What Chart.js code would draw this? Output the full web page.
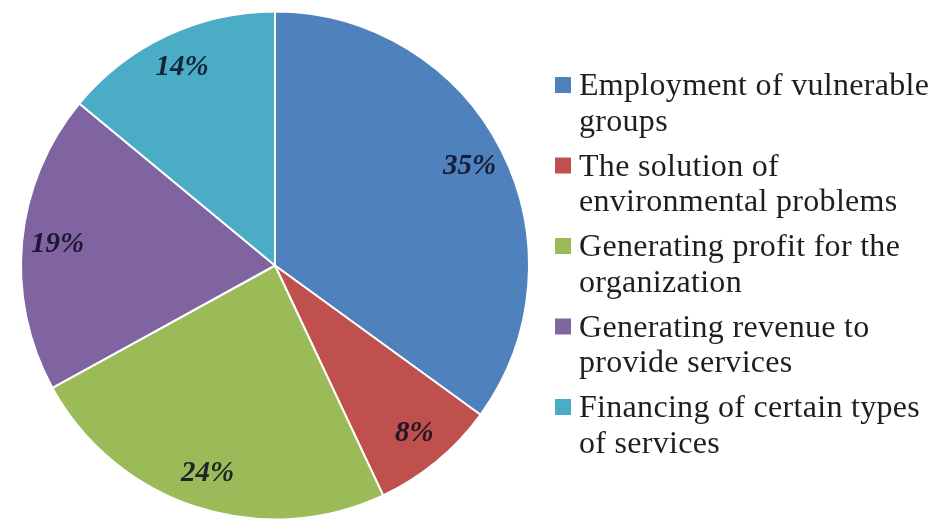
<!DOCTYPE html>
<html>
<head>
<meta charset="utf-8">
<script src="https://cdn.jsdelivr.net/npm/chart.js"></script>
<style>
  html, body { margin: 0; padding: 0; background: #fff; }
  #wrap { width: 940px; height: 527px; position: relative; }
</style>
</head>
<body>
<div id="wrap"><canvas id="chart" width="940" height="527"></canvas></div>
<script>
// goal categories, each split into the lines shown in the legend
const categories = [
  ['Employment of vulnerable', 'groups'],
  ['The solution of', 'environmental problems'],
  ['Generating profit for the', 'organization'],
  ['Generating revenue to', 'provide services'],
  ['Financing of certain types', 'of services']
];
const shares = [35, 8, 24, 19, 14];
const colors = ['#4f81bd', '#c0504d', '#9bbb59', '#8064a2', '#4bacc6'];

// percentage labels placed inside each slice
const sliceLabels = {
  id: 'sliceLabels',
  afterDatasetsDraw(chart) {
    const ctx = chart.ctx;
    const meta = chart.getDatasetMeta(0);
    ctx.save();
    ctx.font = 'italic bold 29px "Liberation Serif", "Times New Roman", serif';
    ctx.fillStyle = 'rgba(10, 10, 30, 0.85)';
    ctx.textAlign = 'center';
    ctx.textBaseline = 'middle';
    meta.data.forEach((arc, i) => {
      const mid = (arc.startAngle + arc.endAngle) / 2;
      const r = arc.outerRadius * 0.86;
      ctx.fillText(shares[i] + '%', arc.x + Math.cos(mid) * r, arc.y + Math.sin(mid) * r);
    });
    ctx.restore();
  }
};

// legend on the right with two-line entries
const sideLegend = {
  id: 'sideLegend',
  afterDraw(chart) {
    const ctx = chart.ctx;
    const x0 = 555, tx = 579;
    const firstBase = 95, itemStep = 80.5, lineStep = 35.5;
    ctx.save();
    ctx.font = '32px "Liberation Serif", "Times New Roman", serif';
    ctx.letterSpacing = '0.3px';
    ctx.textBaseline = 'alphabetic';
    categories.forEach((lines, i) => {
      const base = firstBase + i * itemStep;
      ctx.fillStyle = colors[i];
      ctx.fillRect(x0, base - 18, 16, 16);
      ctx.fillStyle = '#1e1e1e';
      lines.forEach((t, j) => ctx.fillText(t, tx, base + j * lineStep));
    });
    ctx.restore();
  }
};

new Chart(document.getElementById('chart'), {
  type: 'pie',
  data: {
    labels: categories.map(c => c.join(' ')),
    datasets: [{
      data: shares,
      backgroundColor: colors,
      borderColor: '#ffffff',
      borderWidth: 2
    }]
  },
  options: {
    responsive: false,
    animation: false,
    layout: { padding: { left: 20, right: 410, top: 10, bottom: 6 } },
    plugins: {
      legend: { display: false },
      tooltip: { enabled: false }
    }
  },
  plugins: [sliceLabels, sideLegend]
});
</script>
</body>
</html>
